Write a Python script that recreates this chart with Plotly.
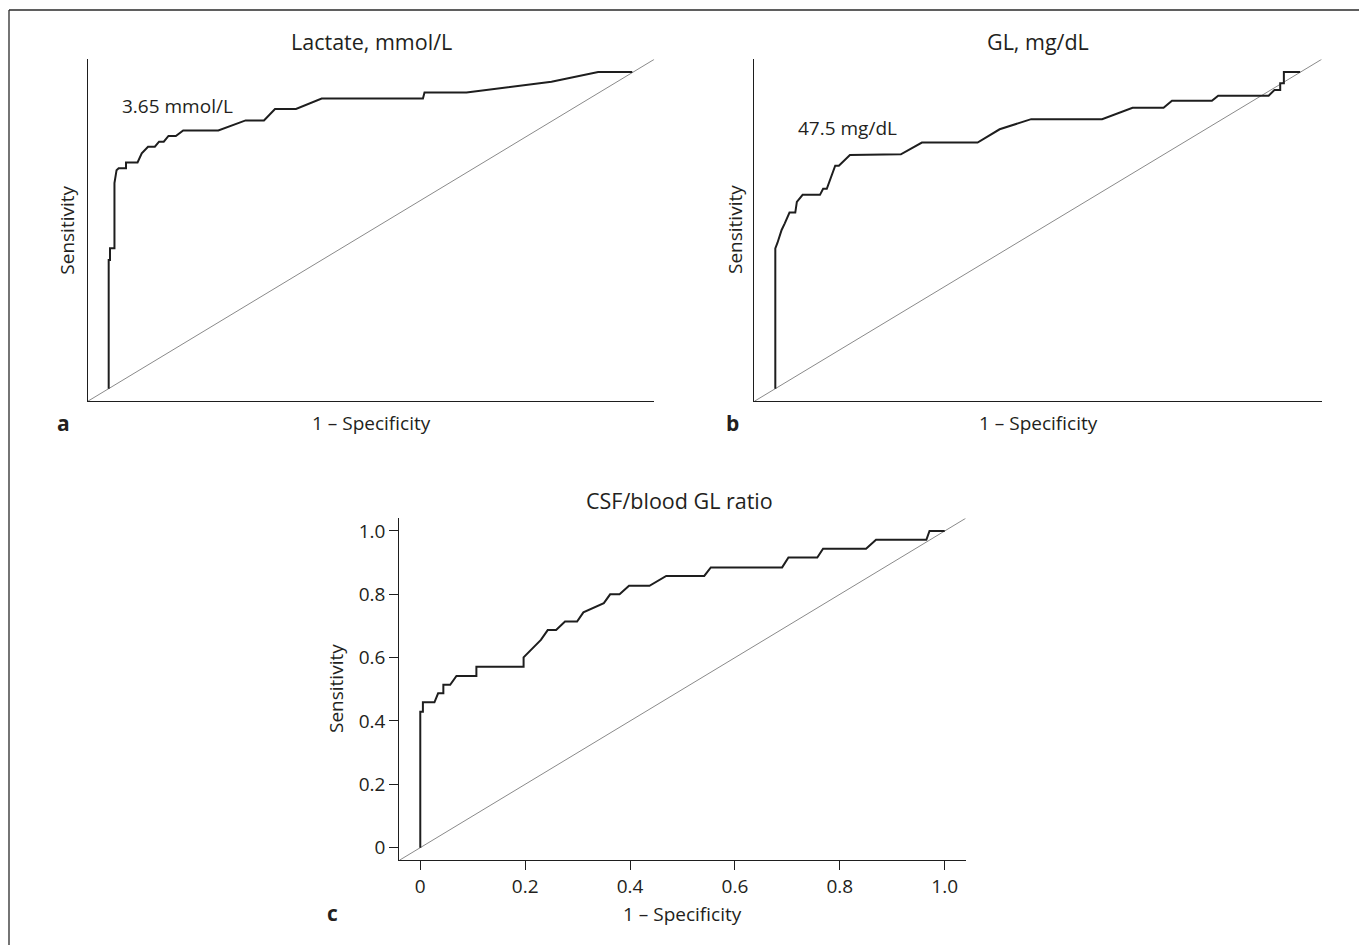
import plotly.graph_objects as go

W, H = 1359, 945

# ---- data ----
lac_fpr = [0.0, 0.0, 0.0025, 0.0025, 0.011, 0.011, 0.015, 0.019, 0.033, 0.033, 0.055, 0.063,
           0.075, 0.088, 0.096, 0.105, 0.114, 0.128, 0.142, 0.209, 0.261, 0.296, 0.317,
           0.357, 0.406, 0.599, 0.602, 0.682, 0.844, 0.933, 0.998]
lac_tpr = [0.0, 0.406, 0.406, 0.443, 0.443, 0.649, 0.690, 0.696, 0.696, 0.714, 0.714, 0.743,
           0.764, 0.764, 0.780, 0.780, 0.798, 0.798, 0.815, 0.815, 0.847, 0.847, 0.883,
           0.883, 0.916, 0.916, 0.935, 0.935, 0.969, 1.0, 1.0]

gl_fpr = [0.0, 0.0, 0.004, 0.012, 0.018, 0.027, 0.038, 0.041, 0.052, 0.085, 0.091, 0.098,
          0.114, 0.121, 0.142, 0.239, 0.279, 0.385, 0.427, 0.487, 0.622, 0.680, 0.739,
          0.755, 0.831, 0.843, 0.939, 0.950, 0.961, 0.961, 0.968, 0.968, 0.999]
gl_tpr = [0.0, 0.443, 0.460, 0.501, 0.522, 0.556, 0.556, 0.590, 0.612, 0.612, 0.631, 0.631,
          0.704, 0.704, 0.738, 0.740, 0.777, 0.777, 0.819, 0.851, 0.851, 0.887, 0.887,
          0.909, 0.909, 0.925, 0.925, 0.943, 0.943, 0.964, 0.964, 1.0, 1.0]

csf_fpr = [0.0, 0.0, 0.005, 0.005, 0.027, 0.034, 0.044, 0.044, 0.057, 0.069, 0.107, 0.107,
           0.197, 0.197, 0.230, 0.243, 0.259, 0.276, 0.299, 0.311, 0.350, 0.362, 0.380,
           0.398, 0.437, 0.469, 0.5415, 0.554, 0.690, 0.702, 0.757, 0.768, 0.850, 0.869,
           0.965, 0.971, 1.0]
csf_tpr = [0.0, 0.429, 0.429, 0.459, 0.459, 0.4875, 0.4875, 0.514, 0.514, 0.542, 0.542, 0.571,
           0.571, 0.601, 0.656, 0.687, 0.687, 0.714, 0.714, 0.743, 0.772, 0.800, 0.800,
           0.827, 0.827, 0.858, 0.858, 0.885, 0.885, 0.916, 0.916, 0.944, 0.944, 0.972,
           0.972, 1.0, 1.0]

ref_line = [-0.04, 1.04]

panel_titles = ["Lactate, mmol/L", "GL, mg/dL", "CSF/blood GL ratio"]
panel_letters = ["a", "b", "c"]
cutoff_labels = ["3.65 mmol/L", "47.5 mg/dL"]
cutoff_pos = [(0.132, 0.893), (0.137, 0.823)]
tick_vals = [0, 0.2, 0.4, 0.6, 0.8, 1.0]
tick_text = ["0", "0.2", "0.4", "0.6", "0.8", "1.0"]

FONT = "Open Sans"
TXT = "#231f20"

def px(x):
    return x / W

def py(y):
    return 1 - y / H

fig = go.Figure()

curves = [(lac_fpr, lac_tpr), (gl_fpr, gl_tpr), (csf_fpr, csf_tpr)]
suffix = ["", "2", "3"]
for (fx, ty), s in zip(curves, suffix):
    fig.add_trace(go.Scatter(x=ref_line, y=ref_line, mode="lines",
                             line=dict(color="#8a8a8a", width=1),
                             xaxis="x" + s, yaxis="y" + s, hoverinfo="skip",
                             showlegend=False))
    fig.add_trace(go.Scatter(x=fx, y=ty, mode="lines",
                             line=dict(color="#1e1e1e", width=2),
                             xaxis="x" + s, yaxis="y" + s, showlegend=False))

# domains (pixel-derived)
dom = {
    "a": dict(x=[px(87.7), px(654.3)], y=[py(401), py(59.3)]),
    "b": dict(x=[px(754.3), px(1321.7)], y=[py(401), py(59.3)]),
    "c": dict(x=[px(399.3), px(965.7)], y=[py(860), py(518.3)]),
}

xr = [-0.04, 1.04]
yr = [-0.039, 1.04]

def ax_common():
    return dict(showline=True, linecolor="#1e1e1e", linewidth=1.3, showgrid=False,
                zeroline=False, mirror=False, fixedrange=True)

layout = dict(
    width=W, height=H, margin=dict(l=0, r=0, t=0, b=0),
    paper_bgcolor="white", plot_bgcolor="white",
    font=dict(family=FONT, size=19, color=TXT),
    showlegend=False,
)
for key, s, letter in [("xaxis", "", "a"), ("xaxis2", "2", "b"), ("xaxis3", "3", "c")]:
    xa = ax_common()
    ya = ax_common()
    xa.update(domain=dom[letter]["x"], range=xr, anchor="y" + s)
    ya.update(domain=dom[letter]["y"], range=yr, anchor="x" + s)
    if letter == "c":
        for a in (xa, ya):
            a.update(tickmode="array", tickvals=tick_vals, ticktext=tick_text,
                     ticks="outside", ticklen=9, tickwidth=1.2, tickcolor="#1e1e1e",
                     tickfont=dict(family=FONT, size=19, color=TXT))
    else:
        for a in (xa, ya):
            a.update(showticklabels=False, ticks="")
    layout[key] = xa
    layout["yaxis" + s] = ya

fig.update_layout(**layout)

ann = []
# panel titles
for t, (cx, cy) in zip(panel_titles, [(371, 41.7), (1038, 41.7), (679, 500)]):
    ann.append(dict(text=t, x=px(cx), y=py(cy), xref="paper", yref="paper",
                    xanchor="center", yanchor="middle", showarrow=False,
                    font=dict(size=21.5)))
# x titles
for cx, cy in [(371, 423.3), (1038, 423.3), (682.5, 914)]:
    ann.append(dict(text="1 – Specificity", x=px(cx), y=py(cy), xref="paper", yref="paper",
                    xanchor="center", yanchor="middle", showarrow=False, font=dict(size=19)))
# y titles
for cx, cy in [(66.7, 230), (735, 230), (336, 689)]:
    ann.append(dict(text="Sensitivity", x=px(cx), y=py(cy), xref="paper", yref="paper",
                    xanchor="center", yanchor="middle", textangle=-90, showarrow=False,
                    font=dict(size=19)))
# panel letters
for l, (cx, cy) in zip(panel_letters, [(63, 422.5), (732, 422.5), (332, 913)]):
    ann.append(dict(text="<b>" + l + "</b>", x=px(cx), y=py(cy), xref="paper", yref="paper",
                    xanchor="center", yanchor="middle", showarrow=False, font=dict(size=21)))
# cutoff labels
for t, (ax_, ay_), s in zip(cutoff_labels, cutoff_pos, ["", "2"]):
    ann.append(dict(text=t, x=ax_, y=ay_, xref="x" + s, yref="y" + s,
                    xanchor="center", yanchor="middle", showarrow=False, font=dict(size=19)))
fig.update_layout(annotations=ann)

# figure frame (top and left)
fig.update_layout(shapes=[
    dict(type="line", xref="paper", yref="paper", x0=px(9), x1=1, y0=py(10), y1=py(10),
         line=dict(color="#2a2a2a", width=1.3)),
    dict(type="line", xref="paper", yref="paper", x0=px(9), x1=px(9), y0=py(10), y1=0,
         line=dict(color="#2a2a2a", width=1.3)),
])

fig.write_html("out.html", config={"displayModeBar": False},
               post_script="document.body.style.margin='0';document.body.style.overflow='hidden';")
